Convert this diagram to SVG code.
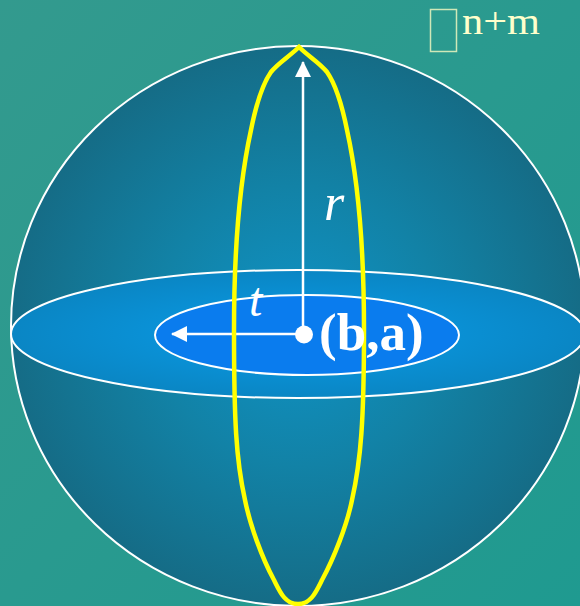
<svg xmlns="http://www.w3.org/2000/svg" width="580" height="606" viewBox="0 0 580 606">
<defs>
<linearGradient id="bg" x1="0" y1="0" x2="1" y2="1"><stop offset="0" stop-color="#339a8e"/><stop offset="1" stop-color="#1f9a90"/></linearGradient>
<radialGradient id="sphere" cx="0.5" cy="0.5" r="0.5"><stop offset="0" stop-color="#0f93c6"/><stop offset="0.5" stop-color="#1282a6"/><stop offset="1" stop-color="#156c86"/></radialGradient>
<radialGradient id="disc" cx="0.5" cy="0.5" r="0.5"><stop offset="0" stop-color="#0a9ce8"/><stop offset="1" stop-color="#0a86c4"/></radialGradient>
<marker id="arrow" markerUnits="userSpaceOnUse" markerWidth="17" markerHeight="16" refX="15" refY="8" orient="auto"><path d="M0 0L16 8L0 16Z" fill="#fff"/></marker>
</defs>
<style>
.o{stroke:#fff;stroke-width:2}
.a{stroke:#fff;stroke-width:2.500}
.l{fill:#fff;font-family:"Liberation Serif",serif}
</style>
<rect width="580" height="606" fill="url(#bg)"/>
<g id="sphere-node"><ellipse cx="298" cy="326" rx="287" ry="280" fill="url(#sphere)" class="o"/></g>
<g id="outer-disc"><ellipse cx="298" cy="334" rx="287" ry="64" fill="url(#disc)" class="o"/></g>
<g id="inner-disc"><ellipse cx="307" cy="335" rx="152" ry="40" fill="#0a7cee" class="o"/></g>
<g id="connectors" fill="none">
<path d="M303 334V62" class="a" marker-end="url(#arrow)"/>
<path d="M304 334H172" class="a" marker-end="url(#arrow)"/>
</g>
<g id="yellow-curve"><path d="M299 47C290 56 278 63 271 72C262 85 255 110 251 130C240 180 234 240 234 330C234 420 236 460 245 500C250 525 262 558 274 580C280 592 285 604 298 604C311 604 316 592 322 580C334 558 347 525 352 500C361 460 364 420 364 330C364 240 358 180 347 130C343 110 336 85 327 72C320 63 308 56 299 47Z" fill="none" stroke="#ffff00" stroke-width="4.500"/></g>
<g id="center"><circle cx="304" cy="334.500" r="9" fill="#fff"/><text x="319" y="350" class="l" font-size="53" font-weight="700">(b,a)</text></g>
<g id="label-r"><text x="324" y="220" class="l" font-size="52" font-style="italic">r</text></g>
<g id="label-t"><text x="249" y="316" class="l" font-size="48" font-style="italic">t</text></g>
<g id="label-top"><rect x="430.500" y="9.500" width="26" height="42" fill="none" stroke="#cfe8b8" stroke-width="1.500"/><text x="462" y="34" font-family="Liberation Serif, serif" font-size="38" textLength="78" lengthAdjust="spacingAndGlyphs" fill="#ffffcc">n+m</text></g>
</svg>
